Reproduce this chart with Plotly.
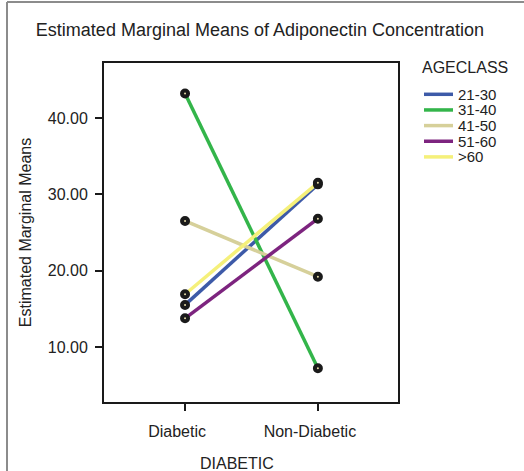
import plotly.graph_objects as go

categories = ["Diabetic", "Non-Diabetic"]
age_classes = ["21-30", "31-40", "41-50", "51-60", ">60"]
diabetic_means = [15.5, 43.2, 26.5, 13.75, 16.9]
non_diabetic_means = [31.3, 7.2, 19.2, 26.8, 31.5]
colors = ["#3d5aa8", "#33b54a", "#d6d09a", "#7d247f", "#f5f07a"]
y_ticks = [10, 20, 30, 40]

W, H = 524, 471
L, R, T, B = 104, 126, 63, 69
pw, ph = W - L - R, H - T - B

def px(x):
    return (x - L) / pw

def py(y):
    return (H - B - y) / ph

FONT = "Liberation Sans, Arial, sans-serif"
TXT = "#222222"
fig = go.Figure()

for i, ac in enumerate(age_classes):
    fig.add_trace(go.Scatter(
        x=categories, y=[diabetic_means[i], non_diabetic_means[i]],
        mode="lines", line=dict(color=colors[i], width=3.5),
        name=ac, showlegend=False, hoverinfo="skip"))

# markers on top
mx, my = [], []
for i in range(len(age_classes)):
    mx += categories
    my += [diabetic_means[i], non_diabetic_means[i]]
fig.add_trace(go.Scatter(
    x=mx, y=my, mode="markers", showlegend=False,
    marker=dict(size=6, color="#e6dca8", line=dict(color="#1a1a1a", width=4))))

shapes = []
annotations = []
# manual legend
annotations.append(dict(text="AGECLASS", x=px(420), y=py(67), xref="paper", yref="paper",
                        xanchor="left", yanchor="middle", showarrow=False,
                        font=dict(size=16, color=TXT, family=FONT)))
for i, ac in enumerate(age_classes):
    yy = 94.3 + i * 15.65
    shapes.append(dict(type="line", xref="paper", yref="paper",
                       x0=px(424), x1=px(453), y0=py(yy), y1=py(yy),
                       line=dict(color=colors[i], width=3.5)))
    annotations.append(dict(text=ac, x=px(456), y=py(yy), xref="paper", yref="paper",
                            xanchor="left", yanchor="middle", showarrow=False,
                            font=dict(size=15, color=TXT, family=FONT)))
# x-axis title
annotations.append(dict(text="DIABETIC", x=px(237), y=py(464), xref="paper", yref="paper",
                        xanchor="center", yanchor="middle", showarrow=False,
                        font=dict(size=16, color=TXT, family=FONT)))
# outer frame (partially visible)
shapes.append(dict(type="line", xref="paper", yref="paper", x0=px(7), x1=px(530),
                   y0=py(2), y1=py(2), line=dict(color="#8c8c8c", width=2)))
shapes.append(dict(type="line", xref="paper", yref="paper", x0=px(7), x1=px(7),
                   y0=py(2), y1=py(480), line=dict(color="#8c8c8c", width=2)))

fig.update_layout(
    width=W, height=H,
    margin=dict(l=L, r=R, t=T, b=B, pad=0),
    paper_bgcolor="white", plot_bgcolor="white",
    font=dict(family=FONT, size=16, color=TXT),
    title=dict(text="Estimated Marginal Means of Adiponectin Concentration",
               x=260 / W, xanchor="center", y=1 - 30 / H, yanchor="middle",
               font=dict(size=18, color=TXT, family=FONT)),
    xaxis=dict(type="category", range=[-0.61, 1.603], showgrid=False, zeroline=False,
               showline=True, mirror=True, linecolor="#1a1a1a", linewidth=2,
               ticks="outside", ticklen=7, tickwidth=2, tickcolor="#1a1a1a",
               ticklabelshift=-8, ticklabelstandoff=7,
               tickfont=dict(size=16, color=TXT, family=FONT)),
    yaxis=dict(range=[2.78, 47.2], showgrid=False, zeroline=False,
               showline=True, mirror=True, linecolor="#1a1a1a", linewidth=2,
               ticks="outside", ticklen=7, tickwidth=2, tickcolor="#1a1a1a",
               tickvals=y_ticks, ticktext=[f"{v:.2f}" for v in y_ticks],
               ticklabelstandoff=4,
               tickfont=dict(size=16, color=TXT, family=FONT),
               title=dict(text="Estimated Marginal Means", standoff=12,
                          font=dict(size=16, color=TXT, family=FONT))),
    shapes=shapes, annotations=annotations,
)

fig.write_html("out.html", config={"displayModeBar": False},
               post_script="document.body.style.margin='0';")
